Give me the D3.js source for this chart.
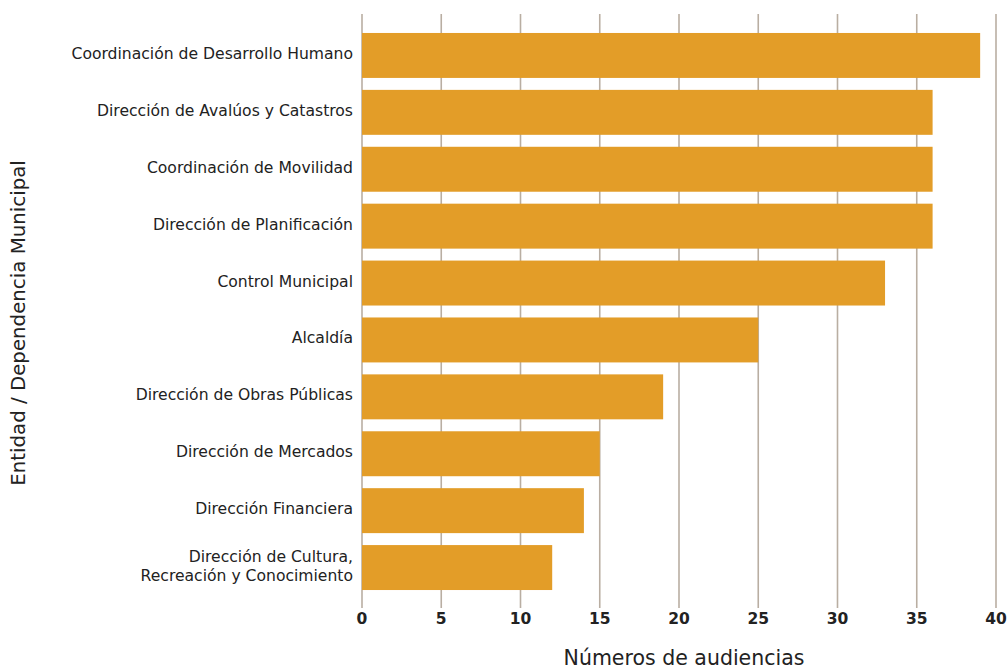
<!DOCTYPE html>
<html>
<head>
<meta charset="utf-8">
<script src="https://cdn.jsdelivr.net/npm/d3@7"></script>
<style>
  body { margin: 0; background: #fff; }
  svg { display: block; font-family: "DejaVu Sans", sans-serif; }
</style>
</head>
<body>
<div id="chart"></div>
<script>
const entidades = [
  'Coordinación de Desarrollo Humano',
  'Dirección de Avalúos y Catastros',
  'Coordinación de Movilidad',
  'Dirección de Planificación',
  'Control Municipal',
  'Alcaldía',
  'Dirección de Obras Públicas',
  'Dirección de Mercados',
  'Dirección Financiera',
  'Dirección de Cultura,\nRecreación y Conocimiento'
];
const audiencias = [39, 36, 36, 36, 33, 25, 19, 15, 14, 12];
const xTicks = [0, 5, 10, 15, 20, 25, 30, 35, 40];

const width = 1007, height = 666;
const margin = { top: 27, right: 11, bottom: 70, left: 362 };

const svg = d3.select('#chart')
  .append('svg')
  .attr('width', width)
  .attr('height', height);

const x = d3.scaleLinear()
  .domain([0, 40])
  .range([margin.left, width - margin.right]);

const y = d3.scaleBand()
  .domain(entidades)
  .range([margin.top, height - margin.bottom])
  .paddingInner(0.21)
  .paddingOuter(0.105);

// gridlines
svg.append('g')
  .selectAll('line')
  .data(xTicks)
  .join('line')
  .attr('x1', d => x(d))
  .attr('x2', d => x(d))
  .attr('y1', 14)
  .attr('y2', 608)
  .attr('stroke', '#b9aea2')
  .attr('stroke-width', 1.6);

// bars
svg.append('g')
  .selectAll('rect')
  .data(entidades)
  .join('rect')
  .attr('x', x(0))
  .attr('y', d => y(d))
  .attr('width', (d, i) => x(audiencias[i]) - x(0))
  .attr('height', y.bandwidth())
  .attr('fill', '#e39d28');

// x tick labels
svg.append('g')
  .selectAll('text')
  .data(xTicks)
  .join('text')
  .attr('x', d => x(d))
  .attr('y', 624)
  .attr('text-anchor', 'middle')
  .attr('font-size', 15.5)
  .attr('font-weight', 'bold')
  .attr('fill', '#222')
  .text(d => d);

// category labels
const labels = svg.append('g')
  .selectAll('text')
  .data(entidades)
  .join('text')
  .attr('x', 353)
  .attr('text-anchor', 'end')
  .attr('font-size', 15.6)
  .attr('fill', '#222');

labels.each(function (d) {
  const lines = d.split('\n');
  const cy = y(d) + y.bandwidth() / 2 - 2;
  const lh = 19;
  d3.select(this)
    .selectAll('tspan')
    .data(lines)
    .join('tspan')
    .attr('x', 353)
    .attr('y', (l, i) => cy + (i - (lines.length - 1) / 2) * lh)
    .attr('dy', '0.35em')
    .text(l => l);
});

// axis titles
svg.append('text')
  .attr('x', 684)
  .attr('y', 665)
  .attr('text-anchor', 'middle')
  .attr('font-size', 20.5)
  .attr('fill', '#222')
  .text('Números de audiencias');

svg.append('text')
  .attr('transform', 'translate(25,323) rotate(-90)')
  .attr('text-anchor', 'middle')
  .attr('font-size', 19.8)
  .attr('fill', '#222')
  .text('Entidad / Dependencia Municipal');
</script>
</body>
</html>
